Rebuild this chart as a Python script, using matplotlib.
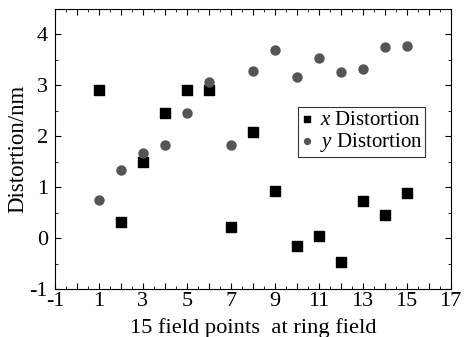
import numpy as np
import matplotlib.pyplot as plt
from matplotlib.ticker import MultipleLocator, FuncFormatter

plt.rcParams['font.family'] = ['Liberation Serif', 'DejaVu Serif']
plt.rcParams['mathtext.fontset'] = 'custom'
plt.rcParams['mathtext.it'] = 'Liberation Serif:italic'
plt.rcParams['mathtext.rm'] = 'Liberation Serif'
plt.rcParams['axes.unicode_minus'] = False

# field point index
points = np.arange(1, 16)
# distortion values (nm)
x_distortion = [2.90, 0.32, 1.50, 2.45, 2.90, 2.90, 0.22, 2.09, 0.92, -0.16, 0.05, -0.47, 0.73, 0.45, 0.89]
y_distortion = [0.75, 1.33, 1.67, 1.83, 2.46, 3.07, 1.83, 3.28, 3.69, 3.16, 3.53, 3.26, 3.33, 3.75, 3.77]

fig = plt.figure(figsize=(4.69, 3.37), dpi=100)
ax = fig.add_axes([0.1173, 0.1424, 0.8433, 0.8309])

ax.scatter(points, x_distortion, marker='s', s=42, color='black', label=r'$x$ Distortion', zorder=3)
ax.scatter(points, y_distortion, marker='o', s=42, color='#555555', label=r'$y$ Distortion', zorder=3)

ax.set_xlim(-1, 17)
ax.set_ylim(-1, 4.5)
# long ticks every integer, labels only on odd numbers
ax.xaxis.set_major_locator(MultipleLocator(1))
ax.xaxis.set_major_formatter(FuncFormatter(lambda v, p: '%d' % round(v) if round(v) % 2 else ''))
ax.xaxis.set_minor_locator(MultipleLocator(0.5))
ax.yaxis.set_major_locator(MultipleLocator(1))
ax.yaxis.set_major_formatter(FuncFormatter(lambda v, p: '%d' % round(v)))
ax.yaxis.set_minor_locator(MultipleLocator(0.5))
ax.tick_params(which='both', direction='in', top=True, right=True, labelsize=16)
ax.tick_params(axis='x', pad=2)
ax.tick_params(axis='y', pad=5)
ax.tick_params(which='major', length=4)
ax.tick_params(which='minor', length=2.5)

ax.set_xlabel('15 field points  at ring field', fontsize=16.2, labelpad=5)
ax.set_ylabel('Distortion/nm', fontsize=16.5, labelpad=1)

leg = ax.legend(loc='upper left', bbox_to_anchor=(0.614, 0.65), fontsize=15, frameon=True,
                fancybox=False, edgecolor='black', markerscale=0.65, handletextpad=0.3,
                borderpad=0.15, labelspacing=0.05, handlelength=0.6, borderaxespad=0)
leg.get_frame().set_linewidth(0.8)

plt.savefig('out.png', dpi=100)
